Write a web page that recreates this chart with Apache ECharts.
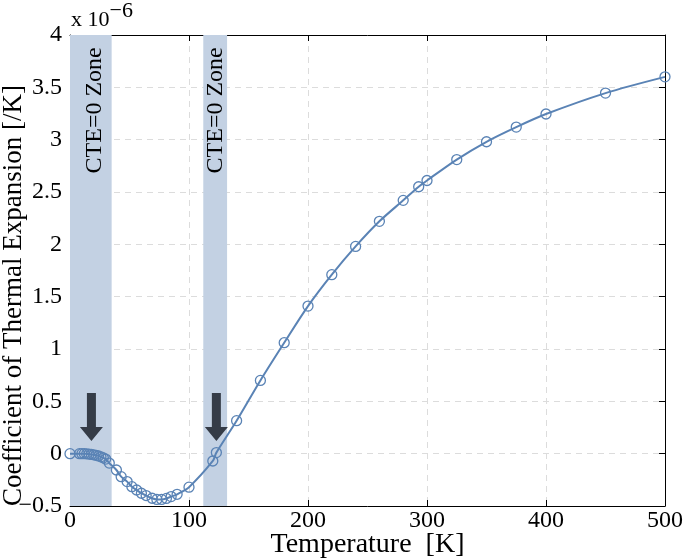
<!DOCTYPE html>
<html>
<head>
<meta charset="utf-8">
<script src="https://cdn.jsdelivr.net/npm/echarts@6/dist/echarts.min.js"></script>
<style>html,body{margin:0;padding:0;background:#fff}#c{width:685px;height:558px}</style>
</head>
<body>
<div id="c"></div>
<script>
// Temperature [K]
const temps = [0, 8, 10, 12, 14, 16, 18, 20, 22, 24, 26, 28, 30, 33, 39, 43, 48, 52, 56, 60, 64, 69, 73, 77, 81, 85, 90, 100, 120, 123, 140, 160, 180, 200, 220, 240, 260, 280, 293, 300, 325, 350, 375, 400, 450, 500];
// CTE [x1e-6 /K]
const cte = [0, 0.0, 0.0, 0.0, -0.002, -0.004, -0.007, -0.011, -0.016, -0.022, -0.03, -0.04, -0.052, -0.09, -0.156, -0.22, -0.267, -0.315, -0.347, -0.378, -0.40, -0.426, -0.437, -0.437, -0.428, -0.41, -0.388, -0.32, -0.07, 0.01, 0.315, 0.70, 1.06, 1.41, 1.71, 1.98, 2.22, 2.42, 2.55, 2.61, 2.81, 2.98, 3.12, 3.245, 3.445, 3.60];
const zones = [[0, 35], [112, 132]];
const zoneLabel = 'CTE=0 Zone';
const zoneLabelPos = [[21, 3.28], [122.5, 3.28]];
const arrowPos = [[18, 0.35], [123, 0.35]];
const xTicks = [0, 100, 200, 300, 400, 500];
const yTicks = [-0.5, 0, 0.5, 1, 1.5, 2, 2.5, 3, 3.5, 4];

const FONT = 'Liberation Serif';
const chart = echarts.init(document.getElementById('c'), null, {renderer: 'canvas'});
const axisCommon = {
  axisLine: {show: true, onZero: false, lineStyle: {color: '#000', width: 1}},
  axisTick: {show: true, inside: true, length: 6, lineStyle: {color: '#000'}},
};
const option = {
  animation: false,
  backgroundColor: '#fff',
  grid: {left: 70, right: 20, top: 35, bottom: 52, containLabel: false, outerBoundsMode: 'none'},
  graphic: [{
    type: 'text', left: 71, top: 0,
    style: {
      text: 'x 10{s|−6}',
      rich: {s: {fontSize: 22, fontFamily: FONT, verticalAlign: 'top', padding: [0, 0, 18, 0], fill: '#000'}},
      fontFamily: FONT, fontSize: 22, fill: '#000'
    }
  }],
  xAxis: [{
    type: 'value', min: 0, max: 500, interval: 100, position: 'bottom',
    name: 'Temperature  [K]', nameLocation: 'middle', nameGap: 25, nameMoveOverlap: false,
    nameTextStyle: {fontFamily: FONT, fontSize: 28, color: '#000'},
    axisLabel: {fontFamily: FONT, fontSize: 24, color: '#000', margin: 3,
      formatter: v => xTicks.includes(v) ? String(v) : ''},
    splitLine: {show: true, lineStyle: {color: '#dcdcdc', type: [6, 5], width: 1}},
    ...axisCommon
  }, {
    type: 'value', min: 0, max: 500, interval: 100, position: 'top',
    axisLabel: {show: false}, splitLine: {show: false}, ...axisCommon
  }],
  yAxis: [{
    type: 'value', min: -0.5, max: 4, interval: 0.5, position: 'left',
    name: 'Coefficient of Thermal Expansion [/K]', nameLocation: 'middle', nameGap: 43, nameMoveOverlap: false,
    nameTextStyle: {fontFamily: FONT, fontSize: 27, color: '#000', padding: [0, 50, 0, 0]},
    axisLabel: {fontFamily: FONT, fontSize: 24, color: '#000', margin: 8,
      formatter: v => yTicks.includes(v) ? String(v).replace('-', '−') : ''},
    splitLine: {show: true, lineStyle: {color: '#dcdcdc', type: [6, 5], width: 1}},
    ...axisCommon
  }, {
    type: 'value', min: -0.5, max: 4, interval: 0.5, position: 'right',
    axisLabel: {show: false}, splitLine: {show: false}, ...axisCommon
  }],
  series: [{
    type: 'line', data: [], z: 1, silent: true,
    markArea: {
      silent: true,
      itemStyle: {color: '#c3d1e3', opacity: 1},
      data: zones.map(z => [{xAxis: z[0]}, {xAxis: z[1]}])
    },
    markPoint: {
      silent: true,
      symbol: 'rect', symbolSize: 1, itemStyle: {color: 'rgba(0,0,0,0)'},
      label: {show: true, position: 'inside', rotate: 90, formatter: zoneLabel,
        fontFamily: FONT, fontSize: 24, color: '#000'},
      data: zoneLabelPos.map(p => ({coord: p}))
    }
  }, {
    type: 'line', z: 3,
    data: temps.map((t, i) => [t, cte[i]]),
    smooth: 0.3,
    symbol: 'circle', symbolSize: 10, showAllSymbol: true,
    lineStyle: {color: '#5a83b5', width: 2},
    itemStyle: {color: 'rgba(255,255,255,0)', borderColor: '#5a83b5', borderWidth: 1.3},
    markPoint: {
      silent: true,
      symbol: 'path://M7,0 L16,0 L16,34 L23,34 L11.5,48 L0,34 L7,34 Z',
      symbolSize: [23, 48],
      itemStyle: {color: '#353c47'},
      label: {show: false},
      data: arrowPos.map(p => ({coord: p}))
    }
  }]
};
chart.setOption(option);
</script>
</body>
</html>
